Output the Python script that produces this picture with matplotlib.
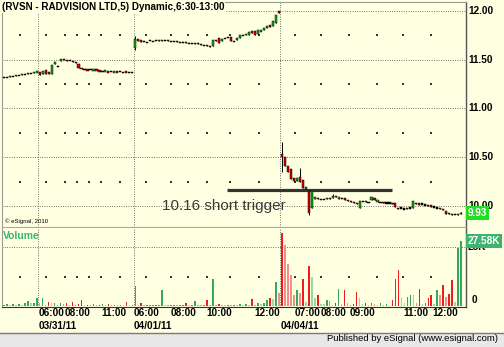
import numpy as np
import matplotlib.pyplot as plt

plt.rcParams['font.family'] = ['Liberation Sans', 'DejaVu Sans']

title = '(RVSN - RADVISION LTD,5) Dynamic,6:30-13:00'

# 5 minute bars, the chart opens on the tail of 03/30
opens_0330 = [11.32, 11.32, 11.32, 11.33, 11.33, 11.34, 11.34, 11.35, 11.35, 11.36, 11.36, 11.37]
closes_0330 = [11.32, 11.32, 11.33, 11.33, 11.34, 11.34, 11.35, 11.35, 11.36, 11.36, 11.37, 11.38]
vol_0330 = [0.6, 0.8, 0.6, 0.7, 0.6, 0.8, 0.6, 1.4, 2.1, 1.4, 1.4, 3.5]

opens_0331 = [11.37, 11.35, 11.39, 11.37, 11.35, 11.46, 11.43, 11.49, 11.51, 11.50,
              11.49, 11.49, 11.48, 11.46, 11.42, 11.40, 11.40, 11.40, 11.39, 11.40,
              11.39, 11.38, 11.38, 11.38, 11.38, 11.37, 11.38, 11.38, 11.37, 11.38,
              11.37, 11.37]
closes_0331 = [11.34, 11.38, 11.35, 11.35, 11.45, 11.48, 11.43, 11.51, 11.50, 11.49,
               11.49, 11.48, 11.47, 11.42, 11.40, 11.40, 11.39, 11.40, 11.40, 11.39,
               11.38, 11.38, 11.39, 11.37, 11.38, 11.38, 11.37, 11.38, 11.37, 11.37,
               11.37, 11.37]
vol_0331 = [1.4, 3.5, 0.6, 1.6, 1.4, 1.4, 0.6, 1.4, 0.8, 1.4,
            0.6, 1.6, 0.6, 0.8, 2.5, 0.6, 0.6, 0.6, 0.9, 0.6,
            0.6, 0.8, 0.5, 0.9, 0.5, 0.6, 0.5, 0.6, 0.5, 1.8,
            0.5, 0.6]

opens_0401 = [11.62, 11.71, 11.70, 11.69, 11.68, 11.70, 11.69, 11.70, 11.69, 11.69,
              11.70, 11.70, 11.69, 11.69, 11.69, 11.68, 11.68, 11.68, 11.67, 11.67,
              11.66, 11.67, 11.66, 11.65, 11.65, 11.64, 11.64, 11.70, 11.72, 11.69,
              11.72, 11.73, 11.73, 11.69, 11.70, 11.72, 11.75, 11.75, 11.75, 11.79,
              11.79, 11.76, 11.79, 11.80, 11.83, 11.86, 11.85, 11.88, 12.00]
closes_0401 = [11.71, 11.69, 11.68, 11.69, 11.68, 11.70, 11.69, 11.70, 11.70, 11.70,
               11.70, 11.69, 11.69, 11.69, 11.68, 11.68, 11.68, 11.67, 11.67, 11.67,
               11.67, 11.66, 11.65, 11.65, 11.64, 11.63, 11.70, 11.69, 11.67, 11.71,
               11.72, 11.73, 11.69, 11.69, 11.72, 11.75, 11.75, 11.76, 11.78, 11.77,
               11.75, 11.80, 11.80, 11.83, 11.85, 11.84, 11.90, 11.96, 11.98]
vol_0401 = [8.5, 0.6, 1.4, 0.5, 0.5, 0.5, 0.5, 0.5, 0.6, 6.8,
            0.6, 0.5, 0.5, 0.6, 0.5, 0.5, 0.5, 1.4, 0.5, 0.5,
            2.1, 0.6, 0.5, 0.5, 2.5, 0.5, 11.4, 0.6, 0.8, 0.6,
            0.5, 0.6, 0.5, 0.6, 0.5, 1.0, 0.6, 0.8, 0.6, 2.8,
            0.5, 1.1, 0.8, 1.4, 2.5, 3.2, 3.0, 10.3, 5.6]

opens_0404 = [10.53, 10.50, 10.41, 10.38, 10.29, 10.26, 10.30, 10.27, 10.17, 10.15,
              9.98, 10.07, 10.08, 10.07, 10.07, 10.07, 10.08, 10.08, 10.10, 10.07,
              10.08, 10.08, 10.06, 10.05, 10.04, 10.03, 9.98, 10.05, 10.05, 10.04,
              10.06, 10.08, 10.04, 10.04, 10.04, 10.03, 10.03, 10.03, 10.03, 9.98,
              9.98, 9.97, 9.97, 9.98, 9.98, 10.03, 10.03, 10.02, 10.01, 10.01,
              10.01, 9.99, 9.98, 9.98, 9.97, 9.95, 9.93, 9.92, 9.91, 9.91, 9.92]
closes_0404 = [10.50, 10.41, 10.35, 10.28, 10.26, 10.29, 10.25, 10.18, 10.19, 9.93,
               10.15, 10.09, 10.07, 10.07, 10.07, 10.08, 10.07, 10.10, 10.09, 10.09,
               10.08, 10.06, 10.05, 10.04, 10.03, 10.02, 10.05, 10.05, 10.04, 10.04,
               10.09, 10.06, 10.06, 10.04, 10.03, 10.03, 10.03, 10.02, 9.99, 9.97,
               9.98, 9.97, 9.98, 9.98, 10.05, 10.02, 10.01, 10.02, 10.01, 10.00,
               9.99, 9.99, 9.98, 9.97, 9.96, 9.92, 9.92, 9.91, 9.91, 9.92, 9.93]
vol_0404 = [31.0, 25.8, 18.0, 13.1, 4.7, 6.8, 5.6, 11.4, 1.8, 17.0,
            12.3, 3.2, 4.7, 1.0, 0.8, 2.5, 2.1, 0.6, 1.1, 7.3,
            0.9, 6.6, 1.2, 0.6, 1.0, 5.9, 3.2, 0.8, 1.2, 0.5,
            1.2, 0.8, 0.6, 1.2, 0.6, 1.0, 0.6, 2.5, 11.4, 15.3,
            3.2, 1.1, 4.0, 4.7, 4.6, 1.4, 7.3, 0.8, 1.4, 3.2,
            4.7, 0.8, 6.6, 4.7, 8.9, 3.9, 4.9, 11.0, 1.5, 24.4, 27.58]

# wicks that stick out of the bodies (bar number -> price)
wick_highs = {44: 11.74, 92: 12.00, 93: 10.66, 99: 10.39, 102: 10.16, 110: 10.12, 153: 9.94}
wick_lows = {44: 11.60, 93: 10.35, 102: 9.91}

price_levels = [10.0, 10.5, 11.0, 11.5, 12.0]
half_levels = [10.25, 10.75, 11.25, 11.75]
day_breaks = [11.5, 43.5, 92.5]
hour_marks = [5.4, 14.1, 20.5, 24.5, 28.5, 32.5, 38.9, 47.6, 55.9, 61.6, 68.0, 75.7,
              85.4, 97.4, 106.1, 115.5, 124.8, 133.5, 142.9]
time_ticks = [11.5, 20.5, 32.5, 43.5, 55.9, 67.9, 83.7, 97.4, 106.1, 115.8, 133.5, 143.2]
time_labels = ['06:00', '08:00', '11:00', '06:00', '08:00', '10:00', '12:00',
               '07:00', '08:00', '09:00', '11:00', '12:00']
date_ticks = [11.5, 43.5, 92.7]
date_labels = ['03/31/11', '04/01/11', '04/04/11']

trigger_price = 10.16
trigger_bars = (74.7, 129.8)
trigger_text = '10.16 short trigger'

opens = np.array(opens_0330 + opens_0331 + opens_0401 + opens_0404)
closes = np.array(closes_0330 + closes_0331 + closes_0401 + closes_0404)
volumes = np.array(vol_0330 + vol_0331 + vol_0401 + vol_0404)
x = np.arange(len(opens))

cream = '#FFFFE1'
dots = dict(color='#444444', lw=0.6, linestyle=(0, (1, 1.8)), zorder=1)

fig = plt.figure(figsize=(5.04, 3.47), dpi=100, facecolor=cream)
ax = fig.add_axes([2 / 504, 120 / 347, 464 / 504, 225 / 347], facecolor=cream)
axv = fig.add_axes([2 / 504, 40 / 347, 464 / 504, 79 / 347], facecolor=cream, sharex=ax)

# ---- price panel
highs = np.maximum(opens, closes)
lows = np.minimum(opens, closes)
for i, v in wick_highs.items():
    highs[i] = v
for i, v in wick_lows.items():
    lows[i] = v

for lvl in price_levels:
    ax.axhline(lvl, **dots)
for b in day_breaks:
    ax.axvline(b, **dots)
    axv.axvline(b, **dots)
hx, hy = np.meshgrid(hour_marks, half_levels)
ax.scatter(hx.ravel(), hy.ravel(), s=0.9, marker='s', color='#333333', lw=0, zorder=1)

ax.hlines(trigger_price, *trigger_bars, color='#333333', lw=2.3, zorder=2)
ax.text(52.9, 9.96, trigger_text, fontsize=11, color='#3A3A3A', va='baseline', zorder=2)

body_lo = np.minimum(opens, closes)
body_h = np.abs(closes - opens)
min_h = 0.012
bottoms = np.where(body_h < min_h, body_lo - (min_h - body_h) / 2, body_lo)
heights = np.maximum(body_h, min_h)
body_col = np.where(closes > opens, '#12B012', np.where(closes < opens, '#D80000', '#000000'))
ax.vlines(x, lows, highs, color='black', lw=0.7, zorder=3)
ax.bar(x, heights, bottom=bottoms, width=0.7, color=body_col,
       edgecolor='black', linewidth=0.35, zorder=4)

ax.set_xlim(-0.6, 154.6)
ax.set_ylim(9.7846, 12.0923)
ax.set_xticks([])
ax.set_yticks([])

tr = ax.get_yaxis_transform()
for lvl in price_levels:
    ax.text(1.0045, lvl, f'{lvl:.2f}', transform=tr, fontsize=7.2, fontweight='bold',
            va='center', ha='left', clip_on=False)
ax.text(1.0045, closes[-1], f'{closes[-1]:.2f}', transform=tr, fontsize=7.2,
        fontweight='bold', color='white', va='center', ha='left', zorder=10,
        bbox=dict(facecolor='#22DD22', edgecolor='none', pad=1.2))

ax.text(0.006, 0.027, '\u00a9 eSignal, 2010', transform=ax.transAxes, fontsize=4.3,
        va='center', ha='left')

# ---- volume panel
axv.axhline(25, **dots)
vx, vy = np.meshgrid(hour_marks, [12.5])
axv.scatter(vx.ravel(), vy.ravel(), s=0.9, marker='s', color='#333333', lw=0, zorder=1)

prev = np.concatenate([[volumes[0]], volumes[:-1]])
up = closes >= opens
strong = volumes >= prev
vol_col = np.where(up, np.where(strong, '#35A860', '#9AD8A6'),
                   np.where(strong, '#EE1C1C', '#F58C8C'))
axv.bar(x, volumes, width=0.55, color=vol_col, zorder=3)
axv.set_ylim(-0.42, 33.05)
axv.set_xticks([])
axv.set_yticks([])

trv = axv.get_yaxis_transform()
axv.text(1.0045, 25, '25K', transform=trv, fontsize=7.2, fontweight='bold', va='center')
axv.text(1.012, 0.4, '0', transform=trv, fontsize=7.2, fontweight='bold', va='bottom')
axv.text(1.0045, volumes[-1], f'{volumes[-1]:.2f}K', transform=trv, fontsize=7.2,
         fontweight='bold', color='white', va='center', zorder=10,
         bbox=dict(facecolor='#3CB371', edgecolor='none', pad=1.2))
axv.text(0.003, 0.9, 'Volume', transform=axv.transAxes, fontsize=7.5,
         fontweight='bold', color='#3CB371', va='center')

trx = axv.get_xaxis_transform()
for t, lab in zip(time_ticks, time_labels):
    axv.text(t, -0.075, lab, transform=trx, fontsize=7.2, fontweight='bold',
             ha='left', va='center')
for t, lab in zip(date_ticks, date_labels):
    axv.text(t, -0.245, lab, transform=trx, fontsize=7.2, fontweight='bold',
             ha='left', va='center')

# frame
for a in (ax, axv):
    a.spines['left'].set_color('#9A9A9A')
    a.spines['right'].set_color('#555555')
    a.spines['right'].set_linewidth(1.0)
ax.spines['top'].set_color('#9A9A9A')
ax.spines['bottom'].set_color('#A8A8A8')
axv.spines['top'].set_visible(False)
axv.spines['bottom'].set_color('#333333')

fig.text(2 / 504, 1 - 2 / 347, title, fontsize=7.1, fontweight='bold', va='top', ha='left',
         bbox=dict(facecolor=cream, edgecolor='none', pad=0.5))

fig.patches.append(plt.Rectangle((0, 0), 1, 14 / 347, transform=fig.transFigure,
                                 facecolor='#E8E8E8', edgecolor='none'))
fig.lines.append(plt.Line2D([0, 1], [14 / 347, 14 / 347], transform=fig.transFigure,
                            color='#7A7A7A', lw=1))
fig.text(498 / 504, 1 - 338.5 / 347, 'Published by eSignal (www.esignal.com)',
         fontsize=6.8, ha='right', va='center')

fig.savefig('out.png', dpi=100, facecolor=cream)
